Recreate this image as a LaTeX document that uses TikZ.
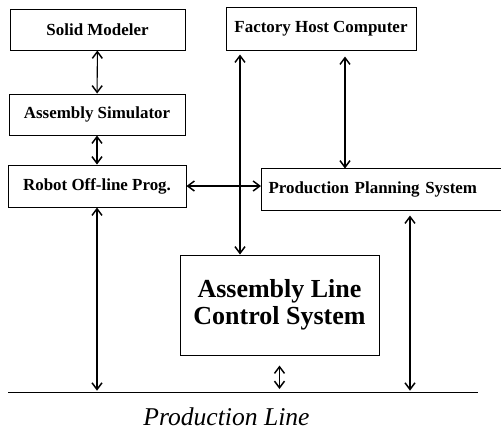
\documentclass[tikz,border=0pt]{standalone}
\usepackage{fontspec}
\setmainfont{Liberation Serif}
\usetikzlibrary{arrows.meta}
\tikzset{
  blk/.style={draw, line width=0.75pt, inner sep=0pt,
    font=\bfseries\fontsize{12.7}{15}\selectfont},
  link/.style={{Straight Barb[length=5pt,width=7.5pt,line width=1.1pt]}-{Straight Barb[length=5pt,width=7.5pt,line width=1.1pt]}, line width=0.8pt}
}
\begin{document}
\begin{tikzpicture}[x=0.75pt, y=-0.75pt]
  \useasboundingbox (0,0) rectangle (501,437);

  % 左列：建模、仿真、离线编程
  \node[blk, minimum width=175*0.75pt, minimum height=41*0.75pt] (sm) at (97.5,29.5) {Solid Modeler};
  \node[blk, minimum width=176*0.75pt, minimum height=41*0.75pt] (as) at (97,114.5) {Assembly Simulator};
  \node[blk, minimum width=178*0.75pt, minimum height=42*0.75pt] (rop) at (97,186) {Robot Off-line Prog.};

  % 右侧：主机与生产计划（右边开口）
  \node[blk, minimum width=190*0.75pt, minimum height=43*0.75pt] (fhc) at (321,28.5) {Factory Host Computer};
  \node[blk, draw=none, anchor=west, align=left, text width=226*0.75pt,
        inner xsep=7*0.75pt, minimum height=41*0.75pt] (pps) at (261,189.5) {Production Planning System};
  \draw[line width=0.75pt] (pps.north east) -- (pps.north west) -- (pps.south west) -- (pps.south east);

  % 装配线控制系统
  \node[blk, minimum width=199*0.75pt, minimum height=100*0.75pt, align=center,
        font=\bfseries\fontsize{19.5}{20.3}\selectfont] (alcs) at (279.5,305)
        {Assembly Line\\Control System};

  % 生产线
  \coordinate (lineL) at (8,392);
  \coordinate (lineR) at (478,392);
  \draw[line width=0.75pt] (lineL) -- (lineR);
  \node[font=\itshape\fontsize{19.2}{22}\selectfont, anchor=base] (pl) at (226.5,425) {Production Line};

  % 竖线位置
  \coordinate (busx) at (240,0);
  \coordinate (hostx) at (345,0);
  \coordinate (planx) at (410,0);

  % 连接
  \draw[link] (sm) -- (as);
  \draw[link] (as) -- (rop);
  \draw[link] (rop) -- (pps.west |- rop);
  \draw[link, shorten <=4*0.75pt] (fhc.south -| busx) -- (alcs.north -| busx);
  \draw[link, shorten <=6*0.75pt] (fhc.south -| hostx) -- (pps.north -| hostx);
  \draw[link, shorten >=1pt] (rop.south) -- (rop.south |- lineL);
  \draw[link, shorten <=10*0.75pt, shorten >=3*0.75pt] (alcs.south) -- (alcs.south |- lineL);
  \draw[link, shorten <=5*0.75pt, shorten >=1pt] (pps.south -| planx) -- (planx |- lineL);
\end{tikzpicture}
\end{document}
